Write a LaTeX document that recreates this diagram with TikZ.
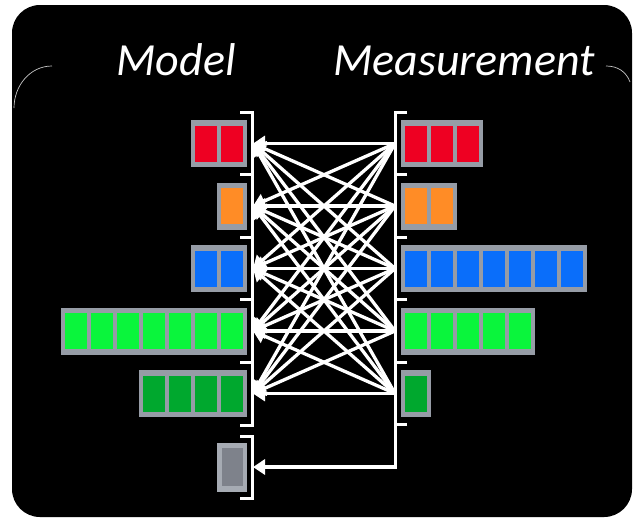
\documentclass[tikz,border=0pt]{standalone}
\usepackage{fontspec}
\setmainfont{Carlito}
\usetikzlibrary{arrows.meta}

\definecolor{mred}{HTML}{EE0022}
\definecolor{morange}{HTML}{FF8C26}
\definecolor{mblue}{HTML}{0A6EFA}
\definecolor{mgreen}{HTML}{0AF53C}
\definecolor{mdkgreen}{HTML}{00A82E}
\definecolor{mgray}{HTML}{7E828B}
\definecolor{frame}{HTML}{969CA6}

\tikzset{
  block/.style={fill=frame, inner sep=0, minimum height=47},
  bracket/.style={draw=white, line width=3},
  link/.style={draw=white, line width=3.3, -{Triangle[length=12,width=15]}},
  title/.style={text=white, font=\fontsize{46}{50}\selectfont\itshape, anchor=base},
  faint/.style={draw=gray!45, line width=0.7}
}

\begin{document}
\begin{tikzpicture}[x=1pt, y=-1pt]
\fill[white] (0,0) rectangle (636,520);
\fill[black, rounded corners=28] (12,5) rectangle (632,517);
\draw[faint] (14,108) to[out=90,in=180] (52,66);
\draw[faint] (606,66) to[out=0,in=110] (630,82);

\node[title] (model) at (176,75) {Model};
\node[title] (meas) at (464,75) {Measurement};

\foreach \i/\n/\c in {1/2/mred,2/1/morange,3/2/mblue,4/7/mgreen,5/4/mdkgreen}{
  \node[block, minimum width=26*\n+4, anchor=east] (mb\i) at (247,81+62.5*\i) {};
  \foreach \k in {1,...,\n}
    \fill[\c] ({247-26*(\n-\k+1)},{81+62.5*\i-18}) rectangle ++(22,36);
  \coordinate (m\i) at (253,81+62.5*\i);
}
\foreach \j/\n/\c in {1/3/mred,2/2/morange,3/7/mblue,4/5/mgreen,5/1/mdkgreen}{
  \node[block, minimum width=26*\n+4, anchor=west] (db\j) at (401,81+62.5*\j) {};
  \foreach \k in {1,...,\n}
    \fill[\c] ({405+26*(\k-1)},{81+62.5*\j-18}) rectangle ++(22,36);
  \coordinate (d\j) at (395,81+62.5*\j);
}
\node[block, fill=frame!85!white, minimum width=30, minimum height=49, anchor=east] (mb6) at (247,467) {};
\fill[mgray] (222,448) rectangle (243,486);
\coordinate (m6) at (253,467);

\draw[bracket] (240,112) -- (252,112) -- (252,425) -- (240,425);
\draw[bracket] (240,436) -- (252,436) -- (252,498) -- (240,498);
\draw[bracket] (407,112) -- (395,112) -- (395,469);
\foreach \t in {174.75,237.25,299.75,362.25}{
  \draw[bracket] (240,\t) -- (252,\t);
  \draw[bracket] (407,\t) -- (395,\t);
}
\draw[bracket] (407,424.75) -- (395,424.75);

\foreach \i in {1,...,5}
  \foreach \j in {1,...,5}
    \draw[link] (d\j) -- (m\i);
\coordinate (corner) at (395,467);
\draw[link] (corner) -- (m6);

\end{tikzpicture}
\end{document}
